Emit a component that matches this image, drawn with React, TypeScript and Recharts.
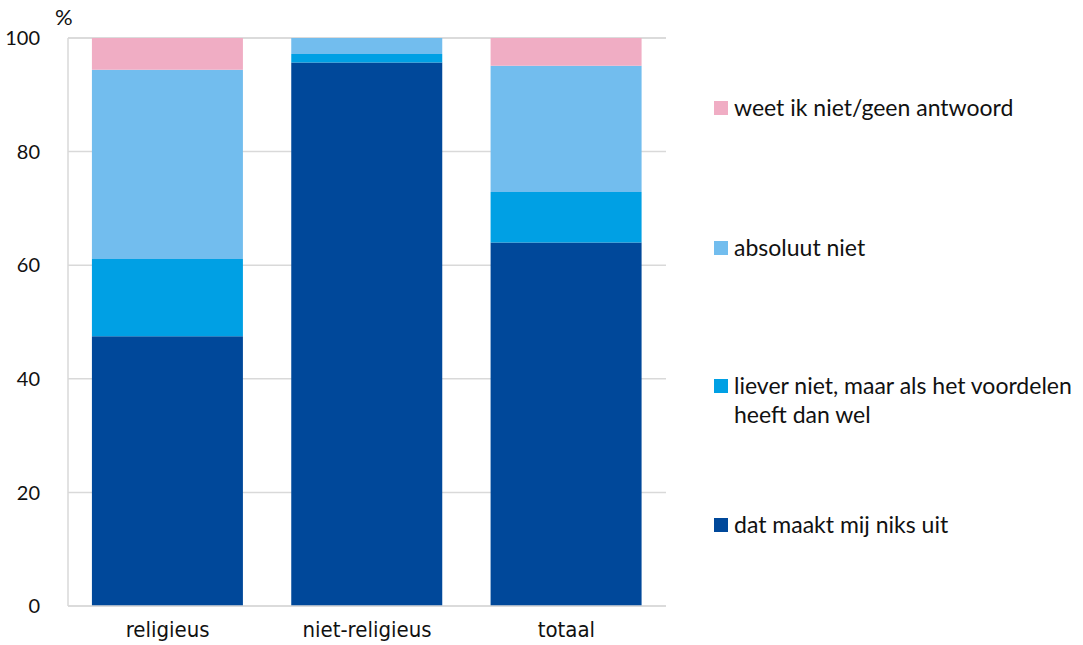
import React from 'react';
import { BarChart, Bar, XAxis, YAxis, CartesianGrid } from 'recharts';

const categories = ['religieus', 'niet-religieus', 'totaal'];
const nietsUit = [47.5, 95.7, 64.0];
const lieverNiet = [13.6, 1.5, 8.9];
const absoluutNiet = [33.3, 2.8, 22.2];
const weetNiet = [5.6, 0, 4.9];
const yTicks = [0, 20, 40, 60, 80, 100];

const series = [
  { key: 'nietsUit', name: 'dat maakt mij niks uit', color: '#00489a', values: nietsUit },
  { key: 'lieverNiet', name: 'liever niet, maar als het voordelen heeft dan wel', color: '#00a0e4', values: lieverNiet },
  { key: 'absoluutNiet', name: 'absoluut niet', color: '#72bdee', values: absoluutNiet },
  { key: 'weetNiet', name: 'weet ik niet/geen antwoord', color: '#f0adc4', values: weetNiet },
];

const data = categories.map((c, i) => {
  const row: Record<string, string | number> = { name: c };
  series.forEach(s => { row[s.key] = s.values[i]; });
  return row;
});

const FONT = 'Lato, "Open Sans", sans-serif';
const NARROW = '"Liberation Sans Narrow", "DejaVu Sans Condensed", Lato, sans-serif';

// legend text block centres of first line, top to bottom (pink first)
const legendTops = [108, 248, 386, 525];

const ChartLegend = () => {
  const items = [...series].reverse();
  return (
    <div style={{ position: 'absolute', left: 714, top: 0, width: 369, fontFamily: FONT, fontSize: 23, color: '#111' }}>
      {items.map((s, i) => (
        <div key={s.key} style={{ position: 'absolute', left: 0, top: legendTops[i] - 15, display: 'flex', alignItems: 'flex-start', whiteSpace: 'nowrap' }}>
          <div style={{ width: 14, height: 14, background: s.color, marginTop: 8, marginRight: 6, flexShrink: 0 }} />
          <div style={{ lineHeight: '29px' }}>
            {s.key === 'lieverNiet' ? (<>liever niet, maar als het voordelen<br />heeft dan wel</>) : s.name}
          </div>
        </div>
      ))}
    </div>
  );
};

export default function App() {
  return (
    <div style={{ position: 'absolute', left: 0, top: 0, width: 1083, height: 645, background: '#fff' }}>
      <div style={{ position: 'absolute', left: 55, top: 3, fontFamily: FONT, fontSize: 22, color: '#111' }}>%</div>
      <BarChart
        width={1083}
        height={645}
        data={data}
        margin={{ top: 38, right: 417, left: 0, bottom: 0 }}
        barCategoryGap="12%"
      >
        <CartesianGrid vertical={false} stroke="#d9d9d9" strokeWidth={1.5} />
        <XAxis
          dataKey="name"
          height={39}
          axisLine={{ stroke: '#d9d9d9', strokeWidth: 1.5 }}
          tickLine={false}
          tick={{ fill: '#111', fontSize: 22, fontFamily: NARROW }}
          tickMargin={9}
        />
        <YAxis
          width={68}
          domain={[0, 100]}
          ticks={yTicks}
          axisLine={{ stroke: '#d9d9d9', strokeWidth: 1.5 }}
          tickLine={false}
          tick={{ fill: '#111', fontSize: 20, fontFamily: FONT }}
          tickMargin={22}
        />
        <YAxis
          yAxisId="right"
          orientation="right"
          width={0}
          domain={[0, 100]}
          tick={false}
          tickLine={false}
          axisLine={{ stroke: '#d9d9d9', strokeWidth: 1.5 }}
        />
        {series.map(s => (
          <Bar key={s.key} dataKey={s.key} name={s.name} stackId="a" fill={s.color} isAnimationActive={false} />
        ))}
      </BarChart>
      <ChartLegend />
    </div>
  );
}
